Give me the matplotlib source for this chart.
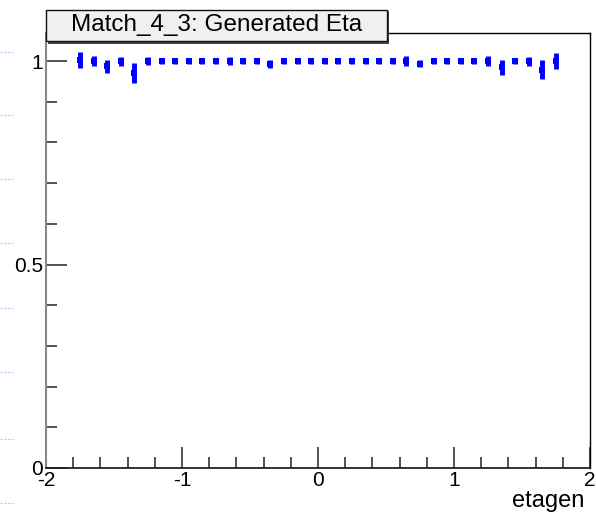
import numpy as np
import matplotlib
matplotlib.use("Agg")
import matplotlib.pyplot as plt
from matplotlib.patches import Rectangle
from matplotlib.lines import Line2D
from matplotlib.ticker import MultipleLocator

plt.rcParams['font.family'] = ['Liberation Sans', 'DejaVu Sans']

# bin centres of the populated bins (width 0.1)
eta_centres = np.round(np.arange(-1.75, 1.76, 0.1), 2)
efficiency = [1.002, 1.0, 0.987, 1.0, 0.970, 1.0, 1.0, 1.0, 1.0,
              1.0, 1.0, 1.0, 1.0, 1.0, 0.993, 1.0, 1.0, 1.0,
              1.0, 1.0, 1.0, 1.0, 1.0, 1.0, 1.0, 0.994, 1.0,
              1.0, 1.0, 1.0, 1.0, 0.985, 1.0, 1.0, 0.979, 1.0]
errors = [0.020, 0.013, 0.016, 0.011, 0.025, 0.010, 0.007, 0.007, 0.007,
          0.007, 0.008, 0.010, 0.007, 0.007, 0.010, 0.007, 0.007, 0.007,
          0.007, 0.007, 0.007, 0.007, 0.007, 0.007, 0.012, 0.008, 0.007,
          0.007, 0.007, 0.007, 0.013, 0.018, 0.008, 0.011, 0.023, 0.020]

titulo = "Match_4_3: Generated Eta"
rotulo_x = "etagen"

fig = plt.figure(figsize=(5.96, 5.14), dpi=100)
ax = fig.add_axes([0.0772, 0.0895, 0.9128, 0.8463])

ax.errorbar(eta_centres, efficiency, yerr=errors, fmt='s', color='#0000ff',
            markersize=5, elinewidth=3.5, capsize=0, markeredgewidth=0)

ax.set_xlim(-2, 2)
ax.set_ylim(0, 1.069)

ax.xaxis.set_minor_locator(MultipleLocator(0.2))
ax.yaxis.set_minor_locator(MultipleLocator(0.1))
ax.set_yticks([0, 0.5, 1])
ax.set_yticklabels(["0", "0.5", "1"])
ax.set_xticks([-2, -1, 0, 1, 2])
ax.set_xticklabels(["-2", "-1", "0", "1", "2"])

ax.tick_params(which='both', direction='in', top=False, right=False,
               color='#333333', width=1.2)
ax.tick_params(which='major', length=15, labelsize=15)
ax.tick_params(which='minor', length=8)
ax.tick_params(axis='x', which='major', pad=2.5)
ax.tick_params(axis='y', which='major', pad=2)

ax.spines['left'].set_color('#888888')
ax.spines['left'].set_linewidth(1.5)
ax.spines['bottom'].set_color('#222222')
ax.spines['bottom'].set_linewidth(1.3)
ax.spines['top'].set_linewidth(1.0)
ax.spines['right'].set_linewidth(1.0)

ax.set_xlabel(rotulo_x, fontsize=17)
ax.xaxis.set_label_coords(0.99, -0.05)
ax.xaxis.label.set_ha('right')
ax.xaxis.label.set_va('top')

# caixa do titulo, estilo ROOT com sombra
sombra = Rectangle((0.0805, 0.915), 0.572, 0.063, transform=fig.transFigure,
                   facecolor='#444444', edgecolor='none', zorder=5)
caixa = Rectangle((0.0772, 0.92), 0.572, 0.061, transform=fig.transFigure,
                  facecolor='#f0f0f0', edgecolor='#111111', linewidth=1.0,
                  zorder=6)
fig.add_artist(sombra)
fig.add_artist(caixa)
fig.text(0.0772 + 0.286, 0.951, titulo, ha='center', va='center',
         fontsize=17.5, zorder=7)

# tracinhos azuis claros na margem esquerda
for yf in [0.899, 0.776, 0.652, 0.527, 0.401, 0.276, 0.146, 0.022]:
    fig.add_artist(Line2D([0.0, 0.022], [yf, yf], transform=fig.transFigure,
                          color='#b8c4ee', linewidth=0.8, linestyle=(0, (2, 1.5))))

fig.savefig("out.png", dpi=100)
